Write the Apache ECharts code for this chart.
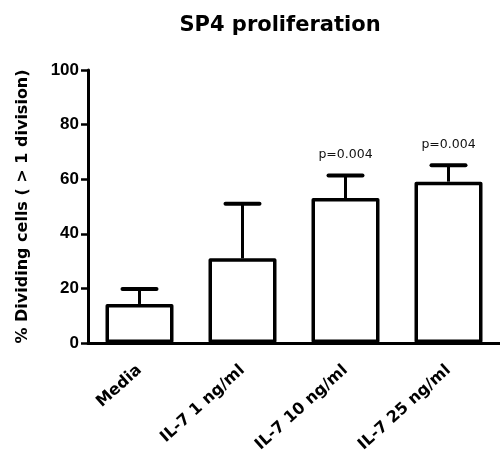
<!DOCTYPE html>
<html>
<head>
<meta charset="utf-8">
<title>SP4 proliferation</title>
<script src="https://cdn.jsdelivr.net/npm/echarts@6/dist/echarts.min.js"></script>
<style>
  html, body { margin: 0; padding: 0; background: #fff; }
  #chart { width: 500px; height: 462px; }
</style>
</head>
<body>
<div id="chart"></div>
<script>
// Conditions on the x axis
const categories = ['Media', 'IL-7 1 ng/ml', 'IL-7 10 ng/ml', 'IL-7 25 ng/ml'];
// Mean % dividing cells per condition
const means = [14.3, 31.0, 53.1, 59.1];
// Upper end of the error bar (mean + SD)
const upperBars = [19.8, 51.0, 61.4, 65.1];
// Significance text shown above each bar ('' for none)
const pValues = ['', '', 'p=0.004', 'p=0.004'];
// Y axis tick values
const yTicks = [0, 20, 40, 60, 80, 100];

const chart = echarts.init(document.getElementById('chart'));

const errorData = categories.map((c, i) => [i, means[i], upperBars[i], pValues[i]]);

const option = {
  backgroundColor: '#ffffff',
  animation: false,
  title: {
    text: 'SP4 proliferation',
    left: 275,
    top: 10,
    textAlign: 'center',
    textStyle: {
      fontFamily: 'DejaVu Sans',
      fontWeight: 'bold',
      fontSize: 21,
      color: '#000'
    }
  },
  grid: {
    left: 88,
    right: -3,
    top: 70,
    bottom: 119
  },
  xAxis: {
    type: 'category',
    data: categories,
    boundaryGap: true,
    axisLine: { lineStyle: { color: '#000', width: 3 } },
    axisTick: {
      alignWithLabel: true,
      length: 7,
      lineStyle: { color: '#000', width: 2.5 }
    },
    axisLabel: {
      rotate: 42,
      margin: 25,
      color: '#000',
      fontFamily: 'DejaVu Sans',
      fontWeight: 'bold',
      fontSize: 16
    }
  },
  yAxis: {
    type: 'value',
    min: yTicks[0],
    max: yTicks[yTicks.length - 1],
    interval: yTicks[1] - yTicks[0],
    name: '% Dividing cells ( > 1 division)',
    nameLocation: 'middle',
    nameGap: 57,
    nameRotate: 90,
    nameTextStyle: {
      fontFamily: 'DejaVu Sans',
      fontWeight: 'bold',
      fontSize: 16,
      color: '#000'
    },
    splitLine: { show: false },
    axisLine: { show: true, lineStyle: { color: '#000', width: 3 } },
    axisTick: { show: true, length: 7, lineStyle: { color: '#000', width: 2.5 } },
    axisLabel: {
      margin: 9,
      color: '#000',
      fontFamily: 'Liberation Sans',
      fontWeight: 'bold',
      fontSize: 17
    }
  },
  series: [
    {
      type: 'bar',
      data: means,
      barWidth: 68,
      itemStyle: {
        color: '#ffffff',
        borderColor: '#000',
        borderWidth: 3.5,
        borderJoin: 'round'
      },
      z: 3
    },
    {
      type: 'custom',
      data: errorData,
      encode: { x: 0, y: [1, 2] },
      z: 2,
      renderItem: function (params, api) {
        const x = api.value(0);
        const base = api.coord([x, api.value(1)]);
        const top = api.coord([x, api.value(2)]);
        const capHalf = 17;
        const children = [
          {
            type: 'line',
            shape: { x1: base[0], y1: base[1], x2: top[0], y2: top[1] },
            style: { stroke: '#000', lineWidth: 3 }
          },
          {
            type: 'line',
            shape: { x1: top[0] - capHalf, y1: top[1], x2: top[0] + capHalf, y2: top[1] },
            style: { stroke: '#000', lineWidth: 4, lineCap: 'round' }
          }
        ];
        const label = api.value(3);
        if (label) {
          children.push({
            type: 'text',
            style: {
              text: label,
              x: top[0],
              y: top[1] - 21,
              align: 'center',
              verticalAlign: 'middle',
              fill: '#111',
              font: '12.5px "DejaVu Sans"'
            }
          });
        }
        return { type: 'group', children: children };
      }
    }
  ]
};

chart.setOption(option);
</script>
</body>
</html>
